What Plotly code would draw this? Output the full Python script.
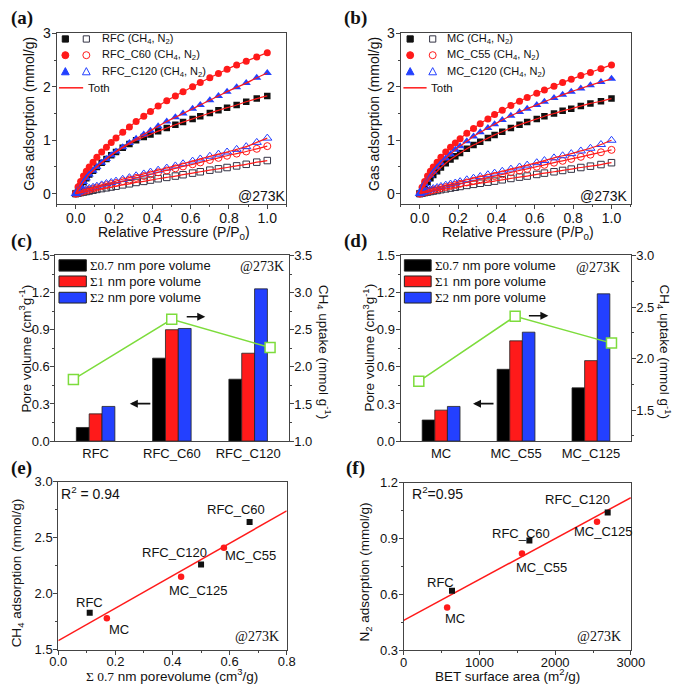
import plotly.graph_objects as go

W, H = 690, 694

# ---------------- DATA ----------------
# (a)/(b) isotherm relative pressures
P = [0.0, 0.012, 0.025, 0.04, 0.055, 0.07, 0.09, 0.11, 0.135, 0.16, 0.185, 0.21, 0.245, 0.28, 0.315,
     0.355, 0.39, 0.43, 0.475, 0.52, 0.56, 0.61, 0.65, 0.70, 0.745, 0.79, 0.84, 0.89, 0.945, 1.0]

rfc_ch4 = [0.0, 0.07, 0.14, 0.22, 0.29, 0.36, 0.43, 0.50, 0.58, 0.65, 0.72, 0.78, 0.86, 0.93, 1.00,
           1.06, 1.11, 1.17, 1.23, 1.29, 1.34, 1.40, 1.45, 1.51, 1.56, 1.61, 1.66, 1.72, 1.78, 1.83]
rfc_c60_ch4 = [0.0, 0.13, 0.23, 0.33, 0.42, 0.50, 0.59, 0.68, 0.78, 0.87, 0.96, 1.04, 1.15, 1.25, 1.35,
               1.45, 1.54, 1.64, 1.74, 1.83, 1.91, 2.00, 2.08, 2.17, 2.25, 2.33, 2.41, 2.48, 2.56, 2.64]
rfc_c120_ch4 = [0.0, 0.07, 0.14, 0.22, 0.29, 0.36, 0.43, 0.50, 0.58, 0.65, 0.72, 0.79, 0.87, 0.95, 1.03,
                1.11, 1.18, 1.26, 1.35, 1.43, 1.50, 1.59, 1.66, 1.75, 1.83, 1.91, 1.99, 2.07, 2.17, 2.26]
rfc_n2 = [0.0, 0.01, 0.02, 0.03, 0.04, 0.05, 0.065, 0.08, 0.095, 0.11, 0.125, 0.14, 0.165, 0.185, 0.21,
          0.23, 0.255, 0.28, 0.305, 0.33, 0.355, 0.385, 0.41, 0.44, 0.465, 0.49, 0.52, 0.55, 0.59, 0.62]
rfc_c60_n2 = [0.0, 0.015, 0.03, 0.045, 0.06, 0.075, 0.095, 0.115, 0.14, 0.16, 0.18, 0.20, 0.235, 0.265, 0.295,
              0.33, 0.36, 0.40, 0.435, 0.475, 0.51, 0.55, 0.585, 0.63, 0.67, 0.71, 0.75, 0.79, 0.84, 0.89]
rfc_c120_n2 = [0.0, 0.03, 0.05, 0.07, 0.085, 0.10, 0.12, 0.14, 0.165, 0.19, 0.21, 0.235, 0.27, 0.30, 0.335,
               0.37, 0.405, 0.44, 0.48, 0.52, 0.56, 0.61, 0.65, 0.70, 0.74, 0.78, 0.83, 0.88, 0.96, 1.04]

mc_ch4 = [0.0, 0.08, 0.15, 0.22, 0.29, 0.35, 0.42, 0.49, 0.57, 0.64, 0.70, 0.76, 0.84, 0.91, 0.97,
          1.04, 1.10, 1.16, 1.23, 1.29, 1.34, 1.40, 1.45, 1.50, 1.55, 1.59, 1.64, 1.69, 1.73, 1.78]
mc_c55_ch4 = [0.0, 0.12, 0.23, 0.33, 0.42, 0.50, 0.59, 0.68, 0.78, 0.87, 0.95, 1.03, 1.13, 1.22, 1.31,
              1.40, 1.48, 1.56, 1.65, 1.73, 1.80, 1.88, 1.94, 2.01, 2.08, 2.14, 2.21, 2.27, 2.34, 2.41]
mc_c120_ch4 = [0.0, 0.09, 0.18, 0.26, 0.34, 0.41, 0.49, 0.57, 0.66, 0.74, 0.82, 0.89, 0.98, 1.07, 1.15,
               1.23, 1.30, 1.38, 1.46, 1.53, 1.59, 1.66, 1.72, 1.79, 1.85, 1.91, 1.97, 2.03, 2.09, 2.15]
mc_n2 = [0.0, 0.01, 0.02, 0.03, 0.04, 0.05, 0.06, 0.075, 0.09, 0.105, 0.12, 0.135, 0.155, 0.175, 0.195,
         0.215, 0.235, 0.26, 0.285, 0.31, 0.33, 0.36, 0.385, 0.41, 0.435, 0.46, 0.49, 0.515, 0.545, 0.58]
mc_c55_n2 = [0.0, 0.015, 0.03, 0.04, 0.055, 0.07, 0.085, 0.105, 0.125, 0.145, 0.165, 0.185, 0.21, 0.24, 0.27,
             0.30, 0.33, 0.36, 0.40, 0.435, 0.465, 0.505, 0.54, 0.58, 0.615, 0.65, 0.69, 0.73, 0.775, 0.82]
mc_c120_n2 = [0.0, 0.025, 0.045, 0.065, 0.08, 0.095, 0.115, 0.135, 0.16, 0.18, 0.20, 0.225, 0.26, 0.29, 0.32,
              0.355, 0.385, 0.42, 0.46, 0.50, 0.535, 0.58, 0.62, 0.67, 0.71, 0.75, 0.80, 0.85, 0.92, 1.0]

# (c) RFC series
samples_c = ["RFC", "RFC_C60", "RFC_C120"]
pv07_c = [0.11, 0.67, 0.50]
pv1_c = [0.22, 0.90, 0.71]
pv2_c = [0.28, 0.91, 1.23]
ch4_c = [1.83, 2.64, 2.26]

# (d) MC series
samples_d = ["MC", "MC_C55", "MC_C125"]
pv07_d = [0.17, 0.58, 0.43]
pv1_d = [0.25, 0.81, 0.65]
pv2_d = [0.28, 0.88, 1.19]
ch4_d = [1.78, 2.41, 2.15]

# (e) linear fit
fit_e_x = [0.0, 0.8]
fit_e_y = [1.58, 2.74]

# (f) BET vs N2
bet_rfc = [638, 1660, 2694]
n2_rfc = [0.62, 0.89, 1.04]
bet_mc = [574, 1562, 2553]
n2_mc = [0.53, 0.82, 0.99]
fit_f_x = [0, 3000]
fit_f_y = [0.46, 1.12]

# ---------------- STYLE ----------------
SANS = "Liberation Sans, Arial, sans-serif"
SERIF = "Liberation Serif, Times New Roman, serif"
AX = "#444"
TXT = "#111"
RED = "#ff1a1a"
BLUE = "#2340ff"
GREEN = "#7ddc3c"


def px(x):
    return x / W


def py(y):
    return 1 - y / H


def axstyle(size=14, **kw):
    d = dict(showline=True, linecolor=AX, linewidth=1, mirror=True, ticks="outside",
             ticklen=4, tickwidth=1, tickcolor=AX, showgrid=False, zeroline=False,
             ticklabelstandoff=-2,
             tickfont=dict(family=SANS, size=size, color=TXT))
    d.update(kw)
    return d


def minor(dt):
    return dict(ticks="outside", ticklen=2, tickcolor=AX, dtick=dt)


fig = go.Figure()


# ---- (a)/(b) isotherms ----
def iso(xa, ya, ch4s, n2s):
    cols = ["#111111", RED, BLUE]
    fsym = ["square", "circle", "triangle-up"]
    osym = ["square-open", "circle-open", "triangle-up-open"]
    sizes = [6.5, 7, 8]
    ocols = ["#333344", RED, BLUE]
    for i in range(3):
        fig.add_trace(go.Scatter(x=P, y=ch4s[i], mode="markers", xaxis=xa, yaxis=ya,
                                 marker=dict(symbol=fsym[i], size=sizes[i], color=cols[i]),
                                 showlegend=False))
        fig.add_trace(go.Scatter(x=P, y=n2s[i], mode="markers", xaxis=xa, yaxis=ya,
                                 marker=dict(symbol=osym[i], size=sizes[i],
                                             color=ocols[i], line=dict(width=1)),
                                 showlegend=False))
    for s in list(ch4s) + list(n2s):
        fig.add_trace(go.Scatter(x=P, y=s, mode="lines", xaxis=xa, yaxis=ya,
                                 line=dict(color=RED, width=1.2, shape="spline"),
                                 showlegend=False))


iso("x", "y", [rfc_ch4, rfc_c60_ch4, rfc_c120_ch4], [rfc_n2, rfc_c60_n2, rfc_c120_n2])
iso("x2", "y2", [mc_ch4, mc_c55_ch4, mc_c120_ch4], [mc_n2, mc_c55_n2, mc_c120_n2])

# ---- (c)/(d) bars ----
BAR_COLS = ["#000000", RED, BLUE]
for xa, ya, xl, yl, series, line in [
    ("x3", "y3", "x4", "y4", [pv07_c, pv1_c, pv2_c], ch4_c),
    ("x5", "y5", "x6", "y6", [pv07_d, pv1_d, pv2_d], ch4_d),
]:
    for i, s in enumerate(series):
        fig.add_trace(go.Bar(x=[0, 1, 2], y=s, xaxis=xa, yaxis=ya,
                             marker=dict(color=BAR_COLS[i], line=dict(color="#222", width=0.8)),
                             showlegend=False))
    fig.add_trace(go.Scatter(x=[0, 1, 2], y=line, xaxis=xl, yaxis=yl, mode="lines+markers",
                             line=dict(color=GREEN, width=1.5),
                             marker=dict(symbol="square", size=10, color="white",
                                         line=dict(color=GREEN, width=1.5)),
                             showlegend=False))

# ---- (e) ----
fig.add_trace(go.Scatter(x=fit_e_x, y=fit_e_y, mode="lines", xaxis="x7", yaxis="y7",
                         line=dict(color=RED, width=1.5), showlegend=False))
fig.add_trace(go.Scatter(x=pv07_c, y=ch4_c, mode="markers", xaxis="x7", yaxis="y7",
                         marker=dict(symbol="square", size=6, color="#111"), showlegend=False))
fig.add_trace(go.Scatter(x=pv07_d, y=ch4_d, mode="markers", xaxis="x7", yaxis="y7",
                         marker=dict(symbol="circle", size=6.5, color=RED), showlegend=False))

# ---- (f) ----
fig.add_trace(go.Scatter(x=fit_f_x, y=fit_f_y, mode="lines", xaxis="x8", yaxis="y8",
                         line=dict(color=RED, width=1.5), showlegend=False))
fig.add_trace(go.Scatter(x=bet_rfc, y=n2_rfc, mode="markers", xaxis="x8", yaxis="y8",
                         marker=dict(symbol="square", size=6, color="#111"), showlegend=False))
fig.add_trace(go.Scatter(x=bet_mc, y=n2_mc, mode="markers", xaxis="x8", yaxis="y8",
                         marker=dict(symbol="circle", size=6.5, color=RED), showlegend=False))

# ---------------- AXES ----------------
ya_dom = [py(201), py(26)]
yc_dom = [py(443.3), py(253.3)]
SO = -3  # pull bottom tick labels closer to the axis
SO2 = -4
layout_axes = dict(
    xaxis=axstyle(domain=[px(49.3), px(287)], range=[-0.1, 1.1], tick0=0, dtick=0.2,
                  tickformat=".1f", minor=minor(0.1), anchor="y", ticklabelstandoff=SO),
    yaxis=axstyle(domain=ya_dom, range=[-0.2, 3], tick0=0, dtick=1, minor=minor(0.5), anchor="x"),
    xaxis2=axstyle(domain=[px(405.2), px(643.1)], range=[-0.1, 1.1], tick0=0, dtick=0.2,
                   tickformat=".1f", minor=minor(0.1), anchor="y2", ticklabelstandoff=SO),
    yaxis2=axstyle(domain=ya_dom, range=[-0.2, 3], tick0=0, dtick=1, minor=minor(0.5), anchor="x2"),
    xaxis3=axstyle(size=13, domain=[px(48), px(289.3)], range=[-0.527, 2.531], tickvals=[0, 1, 2],
                   ticktext=samples_c, ticks="", anchor="y3", ticklabelstandoff=0),
    yaxis3=axstyle(size=13, domain=yc_dom, range=[0, 1.5], tick0=0, dtick=0.3, tickformat=".1f",
                   minor=minor(0.15), anchor="x3"),
    xaxis4=dict(overlaying="x3", range=[-0.183, 2.189], visible=False, anchor="y4"),
    yaxis4=axstyle(size=13, overlaying="y3", side="right", range=[1.0, 3.5], tick0=0, dtick=0.5,
                   tickformat=".1f", minor=minor(0.25), anchor="x3", mirror=False),
    xaxis5=axstyle(size=13, domain=[px(405), px(643)], range=[-0.542, 2.529], tickvals=[0, 1, 2],
                   ticktext=samples_d, ticks="", anchor="y5", ticklabelstandoff=0),
    yaxis5=axstyle(size=13, domain=yc_dom, range=[0, 1.5], tick0=0, dtick=0.3, tickformat=".1f",
                   minor=minor(0.15), anchor="x5"),
    xaxis6=dict(overlaying="x5", range=[-0.19, 2.198], visible=False, anchor="y6"),
    yaxis6=axstyle(size=13, overlaying="y5", side="right", range=[1.2, 3.0], tick0=0, dtick=0.5,
                   tickformat=".1f", minor=minor(0.25), anchor="x5", mirror=False),
    xaxis7=axstyle(size=13, domain=[px(51), px(287.3)], range=[0, 0.8], tick0=0, dtick=0.2,
                   tickformat=".1f", minor=minor(0.1), anchor="y7", ticklabelstandoff=SO2),
    yaxis7=axstyle(size=13, domain=[py(656.7), py(485)], range=[1.5, 3.0], tick0=0, dtick=0.5,
                   tickformat=".1f", minor=minor(0.25), anchor="x7"),
    xaxis8=axstyle(size=13, domain=[px(408.3), px(643.3)], range=[0, 3000], tick0=0, dtick=1000,
                   minor=minor(500), anchor="y8", ticklabelstandoff=SO2),
    yaxis8=axstyle(size=13, domain=[py(657.3), py(486)], range=[0.3, 1.2], tick0=0, dtick=0.3,
                   tickformat=".1f", minor=minor(0.15), anchor="x8"),
)

# ---------------- ANNOTATIONS ----------------
anns = []


def ann(x, y, text, size=14, family=SANS, angle=0, xanchor="center", yanchor="middle"):
    anns.append(dict(x=px(x), y=py(y), xref="paper", yref="paper", text=text, showarrow=False,
                     font=dict(family=family, size=size, color=TXT), textangle=angle,
                     xanchor=xanchor, yanchor=yanchor, borderpad=0))


def dlab(xr, yr, x, y, text, dx, dy, size=13):
    anns.append(dict(x=x, y=y, xref=xr, yref=yr, text=text, showarrow=False, xshift=dx, yshift=dy,
                     borderpad=0, font=dict(family=SANS, size=size, color=TXT)))


def arrow(x_head, y, dx):
    anns.append(dict(x=px(x_head), y=py(y), xref="paper", yref="paper", text="", showarrow=True,
                     ax=dx, ay=0, arrowhead=2, arrowsize=1, arrowwidth=1.6, arrowcolor="#111"))


# panel letters
for lx, ly, t in [(13, 10, "(a)"), (358, 10, "(b)"), (13, 239, "(c)"), (358, 239, "(d)"),
                  (13, 471, "(e)"), (358, 471, "(f)")]:
    ann(lx, ly, "<b>" + t + "</b>", size=19, family=SERIF)

# (a)/(b)
ann(20, 108, "Gas adsorption (mmol/g)", angle=-90)
ann(171, 230, "Relative Pressure (P/P<sub>0</sub>)")
ann(377, 108, "Gas adsorption (mmol/g)", angle=-90)
ann(527, 230, "Relative Pressure (P/P<sub>0</sub>)")
ann(262, 192, "@273K")
ann(616, 192, "@273K")

# (c)/(d)
ann(17, 348, "Pore volume (cm<sup>3</sup>g<sup>-1</sup>)", size=13.5, angle=-90)
ann(326, 352, "CH<sub>4</sub> uptake (mmol g<sup>-1</sup>)", size=13.5, angle=90)
ann(372, 348, "Pore volume (cm<sup>3</sup>g<sup>-1</sup>)", size=13.5, angle=-90)
ann(678, 352, "CH<sub>4</sub> uptake (mmol g<sup>-1</sup>)", size=13.5, angle=90)
ann(262, 265, "@273K", family=SERIF)
ann(609, 266, "@273K", family=SERIF)
arrow(203, 316, -20)
arrow(125, 405, 22)
arrow(558, 315, -21)
arrow(480, 405, 22)

# (e)
ann(9, 578, "CH<sub>4</sub> adsorption (mmol/g)", size=13.5, angle=-90)
ann(169, 683, '<span style="font-family:Liberation Serif">Σ 0.7</span> nm porevolume (cm<sup>3</sup>/g)',
    size=13.5)
ann(257, 643, "@273K", family=SERIF)
ann(53, 496, "R<sup>2</sup> = 0.94", xanchor="left")
dlab("x7", "y7", pv07_c[1], ch4_c[1], samples_c[1], -14, 13)
dlab("x7", "y7", pv07_c[2], ch4_c[2], samples_c[2], -27, 12)
dlab("x7", "y7", pv07_c[0], ch4_c[0], samples_c[0], 0, 10)
dlab("x7", "y7", pv07_d[1], ch4_d[1], samples_d[1], 27, -8)
dlab("x7", "y7", pv07_d[2], ch4_d[2], samples_d[2], 17, -14)
dlab("x7", "y7", pv07_d[0], ch4_d[0], samples_d[0], 12, -11)

# (f)
ann(369, 577, "N<sub>2</sub> adsorption (mmol/g)", size=13.5, angle=-90)
ann(516, 683, "BET surface area (m<sup>2</sup>/g)", size=13.5)
ann(610, 643, "@273K", family=SERIF)
ann(416, 496, "R<sup>2</sup>=0.95", xanchor="left")
dlab("x8", "y8", bet_rfc[0], n2_rfc[0], "RFC", -12, 8)
dlab("x8", "y8", bet_mc[0], n2_mc[0], "MC", 8, -11)
dlab("x8", "y8", bet_rfc[1], n2_rfc[1], "RFC_C60", -8, 7)
dlab("x8", "y8", bet_mc[1], n2_mc[1], "MC_C55", 20, -14)
dlab("x8", "y8", bet_rfc[2], n2_rfc[2], "RFC_C120", -30, 13)
dlab("x8", "y8", bet_mc[2], n2_mc[2], "MC_C125", 6, -10)

# ---------------- LEGENDS (drawn) ----------------
shapes = []


def rect(x0, y0, x1, y1, fill, line="#222", lw=1):
    shapes.append(dict(type="rect", xref="paper", yref="paper", x0=px(x0), x1=px(x1),
                       y0=py(y1), y1=py(y0), fillcolor=fill, line=dict(color=line, width=lw)))


def circ(cx, cy, r, fill, line):
    shapes.append(dict(type="circle", xref="paper", yref="paper", x0=px(cx - r), x1=px(cx + r),
                       y0=py(cy + r), y1=py(cy - r), fillcolor=fill, line=dict(color=line, width=1)))


def tri(cx, cy, s, fill, line):
    pts = [(cx - s / 2, cy + s * 0.42), (cx + s / 2, cy + s * 0.42), (cx, cy - s * 0.5)]
    path = "M " + " L ".join(f"{px(a):.5f},{py(b):.5f}" for a, b in pts) + " Z"
    shapes.append(dict(type="path", xref="paper", yref="paper", path=path, fillcolor=fill,
                       line=dict(color=line, width=1)))


def hline(x0, x1, y, color, w):
    shapes.append(dict(type="line", xref="paper", yref="paper", x0=px(x0), x1=px(x1),
                       y0=py(y), y1=py(y), line=dict(color=color, width=w)))


def iso_legend(xf, xo, xt, xl0, xl1, names):
    rows = [31.7, 48.3, 65.0]
    rect(xf - 3.2, rows[0] - 3.2, xf + 3.2, rows[0] + 3.2, "#111", "#111")
    rect(xo - 3.2, rows[0] - 3.2, xo + 3.2, rows[0] + 3.2, "rgba(0,0,0,0)", "#333344")
    circ(xf, rows[1], 3.6, RED, RED)
    circ(xo, rows[1], 3.6, "rgba(0,0,0,0)", RED)
    tri(xf, rows[2], 8, BLUE, BLUE)
    tri(xo, rows[2], 8, "rgba(0,0,0,0)", BLUE)
    hline(xl0, xl1, 81.7, RED, 1.5)
    for r, n in zip(rows, names):
        ann(xt, r, n + " (CH<sub>4</sub>, N<sub>2</sub>)", size=11, xanchor="left")
    ann(xl1 + 4, 81.7, "Toth", size=11.5, xanchor="left")


iso_legend(58.3, 80, 95, 51.7, 76.7, ["RFC", "RFC_C60", "RFC_C120"])
iso_legend(415, 438.3, 452, 408, 432, ["MC", "MC_C55", "MC_C120"])

leg_names = ['<span style="font-family:Liberation Serif">Σ0.7</span> nm pore volume',
             '<span style="font-family:Liberation Serif">Σ1</span> nm pore volume',
             '<span style="font-family:Liberation Serif">Σ2</span> nm pore volume']
for x0, x1 in [(51.7, 80), (409, 436.7)]:
    for i, (y0, y1) in enumerate([(257.7, 269.3), (274.3, 285.3), (291, 302)]):
        rect(x0, y0, x1, y1, BAR_COLS[i], "#222", 1)
        ann(x1 + 3, (y0 + y1) / 2, leg_names[i], size=13, xanchor="left")

fig.update_layout(
    width=W, height=H, margin=dict(l=0, r=0, t=0, b=0),
    paper_bgcolor="white", plot_bgcolor="white",
    showlegend=False, barmode="group", bargap=0.495, bargroupgap=0,
    annotations=anns, shapes=shapes,
    font=dict(family=SANS, color=TXT),
    **layout_axes,
)

fig.write_html("out.html", config={"displayModeBar": False},
               post_script="document.body.style.margin='0';document.body.style.padding='0';"
                           "document.body.style.overflow='hidden';")
